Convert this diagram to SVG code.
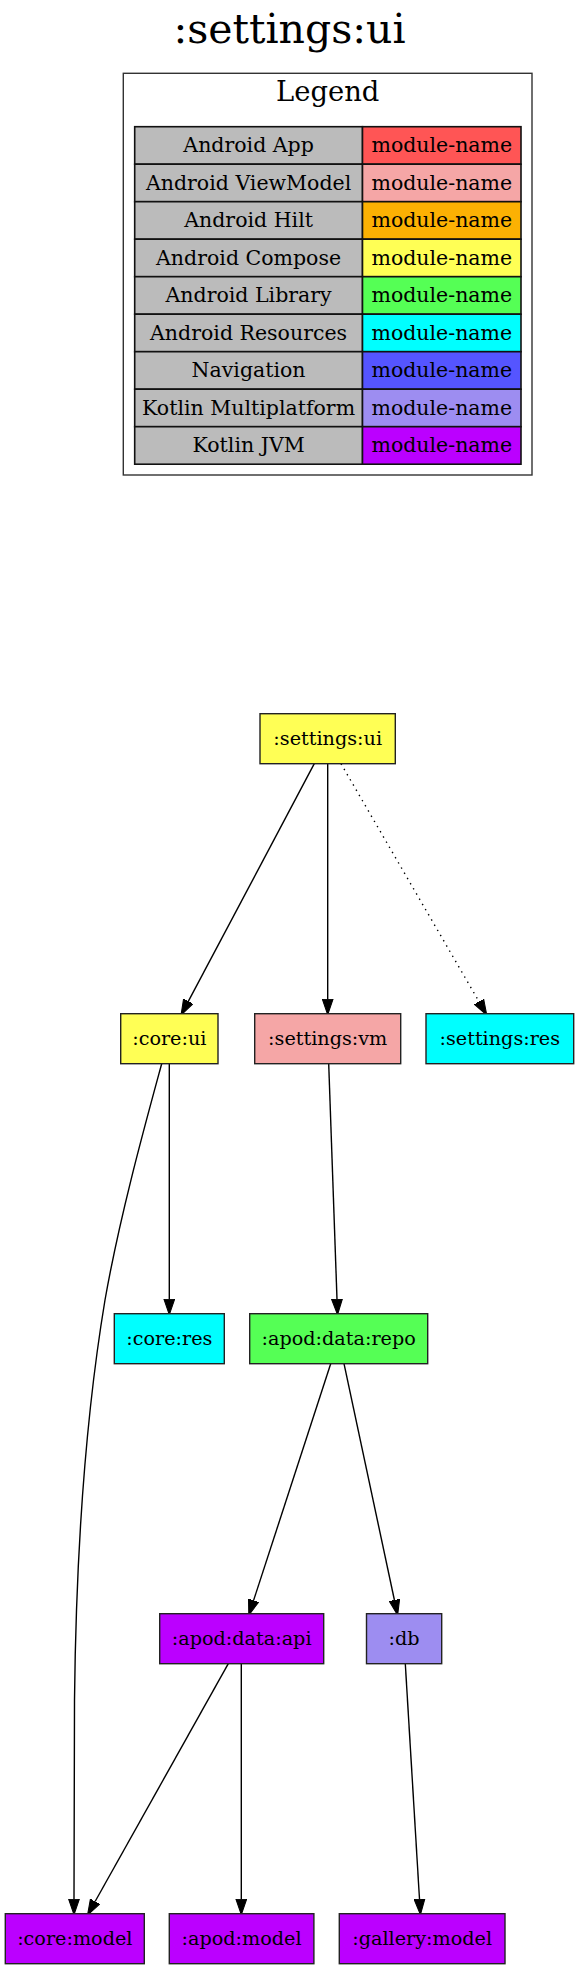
<svg xmlns="http://www.w3.org/2000/svg" width="579" height="1969" viewBox="0 0 579 1969">
<style>
text{font-family:"DejaVu Serif",serif;fill:#000;text-anchor:middle}
.t{font-size:41px}
.lg{font-size:27.4px}
.lc{font-size:20.5px}
.n{font-size:19.2px}
.box{stroke:#222;stroke-width:1.4}
.cell{stroke:#111;stroke-width:1.6}
.e{fill:none;stroke:#000;stroke-width:1.4}
.d{stroke-dasharray:1.4,4.6}
</style>
<defs>
<marker id="ah" markerUnits="userSpaceOnUse" markerWidth="16" markerHeight="12" refX="0" refY="5" orient="auto" viewBox="0 0 15 10">
<path d="M0,0 L14.5,5 L0,10 Z" fill="#000" stroke="#000" stroke-width="1"/>
</marker>
</defs>
<rect width="579" height="1969" fill="#fff"/>
<text class="t" x="289.5" y="43.3">:settings:ui</text>
<g id="legend">
<rect x="123.3" y="73.3" width="408.7" height="401.7" fill="#fff" stroke="#333" stroke-width="1.4"/>
<text class="lg" x="327.7" y="100.7">Legend</text>
<g class="cell">
<rect x="134.7" y="126.7" width="227.8" height="37.5" fill="#BBBBBB"/><rect x="362.5" y="126.7" width="158.5" height="37.5" fill="#FF5555"/>
<rect x="134.7" y="164.2" width="227.8" height="37.5" fill="#BBBBBB"/><rect x="362.5" y="164.2" width="158.5" height="37.5" fill="#F5A6A6"/>
<rect x="134.7" y="201.7" width="227.8" height="37.5" fill="#BBBBBB"/><rect x="362.5" y="201.7" width="158.5" height="37.5" fill="#FCB103"/>
<rect x="134.7" y="239.2" width="227.8" height="37.5" fill="#BBBBBB"/><rect x="362.5" y="239.2" width="158.5" height="37.5" fill="#FFFF55"/>
<rect x="134.7" y="276.7" width="227.8" height="37.5" fill="#BBBBBB"/><rect x="362.5" y="276.7" width="158.5" height="37.5" fill="#55FF55"/>
<rect x="134.7" y="314.2" width="227.8" height="37.5" fill="#BBBBBB"/><rect x="362.5" y="314.2" width="158.5" height="37.5" fill="#00FFFF"/>
<rect x="134.7" y="351.7" width="227.8" height="37.5" fill="#BBBBBB"/><rect x="362.5" y="351.7" width="158.5" height="37.5" fill="#5555FF"/>
<rect x="134.7" y="389.2" width="227.8" height="37.5" fill="#BBBBBB"/><rect x="362.5" y="389.2" width="158.5" height="37.5" fill="#9D8DF1"/>
<rect x="134.7" y="426.7" width="227.8" height="37.5" fill="#BBBBBB"/><rect x="362.5" y="426.7" width="158.5" height="37.5" fill="#BB00FF"/>
</g>
<g class="lc">
<text x="248.6" y="152">Android App</text><text x="441.8" y="152">module-name</text>
<text x="248.6" y="189.5">Android ViewModel</text><text x="441.8" y="189.5">module-name</text>
<text x="248.6" y="227">Android Hilt</text><text x="441.8" y="227">module-name</text>
<text x="248.6" y="264.5">Android Compose</text><text x="441.8" y="264.5">module-name</text>
<text x="248.6" y="302">Android Library</text><text x="441.8" y="302">module-name</text>
<text x="248.6" y="339.5">Android Resources</text><text x="441.8" y="339.5">module-name</text>
<text x="248.6" y="377">Navigation</text><text x="441.8" y="377">module-name</text>
<text x="248.6" y="414.5">Kotlin Multiplatform</text><text x="441.8" y="414.5">module-name</text>
<text x="248.6" y="452">Kotlin JVM</text><text x="441.8" y="452">module-name</text>
</g>
</g>
<g id="edges">
<path class="e" d="M314.3,763.7 L188.3,1001.3" marker-end="url(#ah)"/>
<path class="e" d="M327.7,763.7 L327.7,999.2" marker-end="url(#ah)"/>
<path class="e d" d="M341,763.7 L479,1001.6" marker-end="url(#ah)"/>
<path class="e" d="M169.3,1063.7 L169.3,1299.2" marker-end="url(#ah)"/>
<path class="e" d="M161.7,1063.7 C145,1125 120,1215 105,1300 C85,1420 76,1560 74.5,1700 C74,1780 74,1850 74,1899.2" marker-end="url(#ah)"/>
<path class="e" d="M328.7,1063.7 L337,1299.2" marker-end="url(#ah)"/>
<path class="e" d="M330.7,1363.7 L253.6,1600.4" marker-end="url(#ah)"/>
<path class="e" d="M344,1363.7 L394.4,1600" marker-end="url(#ah)"/>
<path class="e" d="M228.3,1663.7 L95.1,1901.5" marker-end="url(#ah)"/>
<path class="e" d="M241.3,1663.7 L241.3,1899.2" marker-end="url(#ah)"/>
<path class="e" d="M405.3,1663.7 L419.5,1899.2" marker-end="url(#ah)"/>
</g>
<g id="settings_ui"><rect class="box" x="260" y="713.7" width="135.3" height="50" fill="#FFFF55"/><text class="n" x="327.7" y="744.7">:settings:ui</text></g>
<g id="core_ui"><rect class="box" x="120.7" y="1013.7" width="97.3" height="50" fill="#FFFF55"/><text class="n" x="169.3" y="1044.7">:core:ui</text></g>
<g id="settings_vm"><rect class="box" x="254.7" y="1013.7" width="146" height="50" fill="#F5A6A6"/><text class="n" x="327.7" y="1044.7">:settings:vm</text></g>
<g id="settings_res"><rect class="box" x="426" y="1013.7" width="147.7" height="50" fill="#00FFFF"/><text class="n" x="499.8" y="1044.7">:settings:res</text></g>
<g id="core_res"><rect class="box" x="114.3" y="1313.7" width="110" height="50" fill="#00FFFF"/><text class="n" x="169.3" y="1344.7">:core:res</text></g>
<g id="apod_data_repo"><rect class="box" x="249.7" y="1313.7" width="178" height="50" fill="#55FF55"/><text class="n" x="338.7" y="1344.7">:apod:data:repo</text></g>
<g id="apod_data_api"><rect class="box" x="159.7" y="1613.7" width="164" height="50" fill="#BB00FF"/><text class="n" x="241.7" y="1644.7">:apod:data:api</text></g>
<g id="db"><rect class="box" x="366.5" y="1613.7" width="75.2" height="50" fill="#9D8DF1"/><text class="n" x="404.1" y="1644.7">:db</text></g>
<g id="core_model"><rect class="box" x="5.3" y="1913.7" width="139" height="50" fill="#BB00FF"/><text class="n" x="74.8" y="1944.7">:core:model</text></g>
<g id="apod_model"><rect class="box" x="169.3" y="1913.7" width="144.6" height="50" fill="#BB00FF"/><text class="n" x="241.6" y="1944.7">:apod:model</text></g>
<g id="gallery_model"><rect class="box" x="339.3" y="1913.7" width="165.7" height="50" fill="#BB00FF"/><text class="n" x="422.2" y="1944.7">:gallery:model</text></g>
</svg>
